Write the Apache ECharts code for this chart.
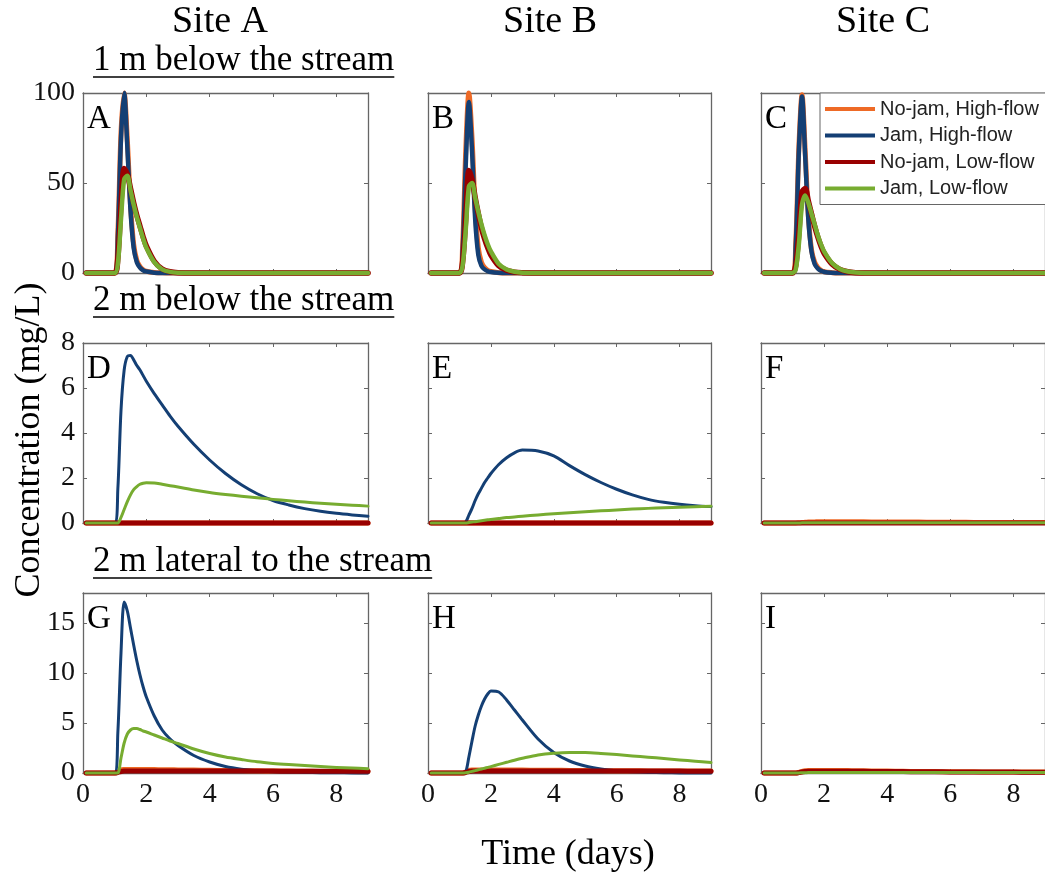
<!DOCTYPE html>
<html>
<head>
<meta charset="utf-8">
<script src="https://cdn.jsdelivr.net/npm/echarts@6/dist/echarts.min.js"></script>
<style>
  html, body { margin: 0; padding: 0; background: #ffffff; }
  #chart { width: 1045px; height: 875px; }
</style>
</head>
<body>
<div id="chart"></div>
<script>
// Shared time axis (days) for every breakthrough curve
const days = [0.1, 0.5, 1.0, 1.1, 1.2, 1.3, 1.4, 1.5, 1.6, 1.7, 1.8, 1.9, 2.0, 2.25, 2.5, 2.75, 3.0, 3.5, 4.0, 4.5, 5.0, 5.5, 6.0, 6.5, 7.0, 7.5, 8.0, 8.5, 9.0];

const seriesNames = ['No-jam, High-flow', 'Jam, High-flow', 'No-jam, Low-flow', 'Jam, Low-flow'];
const siteTitles = ['Site A', 'Site B', 'Site C'];
const rowTitles = ['1 m below the stream', '2 m below the stream', '2 m lateral to the stream'];
const panelLetters = ['A', 'B', 'C', 'D', 'E', 'F', 'G', 'H', 'I'];
const xTicks = { min: 0, max: 9, interval: 2 };
const yTicksByRow = [
  { min: 0, max: 100, interval: 50 },
  { min: 0, max: 8, interval: 2 },
  { min: 0, max: 18, interval: 5 }
];

// Concentration (mg/L), 1 m below the stream
const A_noJamHigh = [0, 0, 0, 22, 78, 100, 74, 38, 16, 7, 3.5, 1.8, 1, 0.3, 0.1, 0, 0, 0, 0, 0, 0, 0, 0, 0, 0, 0, 0, 0, 0];
const A_jamHigh   = [0, 0, 0, 20, 75, 100, 70, 35, 14, 6, 3, 1.5, 0.8, 0.2, 0, 0, 0, 0, 0, 0, 0, 0, 0, 0, 0, 0, 0, 0, 0];
const A_noJamLow  = [0, 0, 0, 8, 38, 58, 55, 47, 39, 32, 26, 20, 15, 6.5, 2.2, 0.7, 0.2, 0, 0, 0, 0, 0, 0, 0, 0, 0, 0, 0, 0];
const A_jamLow    = [0, 0, 0, 5, 30, 52, 54, 46, 38, 31, 25, 19, 14, 6, 2, 0.6, 0.2, 0, 0, 0, 0, 0, 0, 0, 0, 0, 0, 0, 0];

const B_noJamHigh = [0, 0, 0, 15, 68, 100, 75, 36, 14, 6, 3, 1.5, 0.8, 0.2, 0, 0, 0, 0, 0, 0, 0, 0, 0, 0, 0, 0, 0, 0, 0];
const B_jamHigh   = [0, 0, 0, 12, 60, 95, 68, 30, 10, 4, 2, 1, 0.5, 0.1, 0, 0, 0, 0, 0, 0, 0, 0, 0, 0, 0, 0, 0, 0, 0];
const B_noJamLow  = [0, 0, 0, 6, 30, 57, 52, 42, 33, 25, 19, 14, 10, 4, 1.5, 0.5, 0.2, 0, 0, 0, 0, 0, 0, 0, 0, 0, 0, 0, 0];
const B_jamLow    = [0, 0, 0, 4, 24, 48, 50, 42, 34, 27, 21, 16, 12, 5, 2, 0.7, 0.2, 0, 0, 0, 0, 0, 0, 0, 0, 0, 0, 0, 0];

const C_noJamHigh = [0, 0, 0, 16, 70, 99, 68, 32, 13, 6, 3, 1.5, 0.7, 0.2, 0, 0, 0, 0, 0, 0, 0, 0, 0, 0, 0, 0, 0, 0, 0];
const C_jamHigh   = [0, 0, 0, 15, 68, 98, 65, 30, 12, 5, 2.5, 1.2, 0.6, 0.1, 0, 0, 0, 0, 0, 0, 0, 0, 0, 0, 0, 0, 0, 0, 0];
const C_noJamLow  = [0, 0, 0, 4, 22, 45, 47, 40, 33, 26, 20, 15, 11, 5, 2, 0.7, 0.2, 0, 0, 0, 0, 0, 0, 0, 0, 0, 0, 0, 0];
const C_jamLow    = [0, 0, 0, 2, 16, 38, 43, 39, 33, 27, 21, 16, 12, 5.5, 2.2, 0.8, 0.3, 0, 0, 0, 0, 0, 0, 0, 0, 0, 0, 0, 0];

// Concentration (mg/L), 2 m below the stream
const D_noJamHigh = [0, 0, 0, 0, 0, 0, 0, 0, 0, 0, 0, 0, 0, 0, 0, 0, 0, 0, 0, 0, 0, 0, 0, 0, 0, 0, 0, 0, 0];
const D_jamHigh   = [0, 0, 0, 1.5, 5.0, 6.8, 7.4, 7.45, 7.25, 7.0, 6.8, 6.55, 6.3, 5.75, 5.25, 4.75, 4.3, 3.5, 2.8, 2.2, 1.7, 1.3, 1.0, 0.8, 0.64, 0.52, 0.43, 0.36, 0.3];
const D_noJamLow  = [0, 0, 0, 0, 0, 0, 0, 0, 0, 0, 0, 0, 0, 0, 0, 0, 0, 0, 0, 0, 0, 0, 0, 0, 0, 0, 0, 0, 0];
const D_jamLow    = [0, 0, 0, 0, 0.25, 0.6, 0.95, 1.25, 1.48, 1.62, 1.72, 1.77, 1.79, 1.78, 1.72, 1.66, 1.6, 1.47, 1.36, 1.27, 1.19, 1.12, 1.05, 0.99, 0.93, 0.88, 0.83, 0.79, 0.75];

const E_noJamHigh = [0, 0, 0, 0, 0, 0, 0, 0, 0, 0, 0, 0, 0, 0, 0, 0, 0, 0, 0, 0, 0, 0, 0, 0, 0, 0, 0, 0, 0];
const E_jamHigh   = [0, 0, 0, 0, 0.05, 0.35, 0.65, 1.0, 1.3, 1.55, 1.8, 2.0, 2.2, 2.6, 2.9, 3.12, 3.24, 3.2, 2.98, 2.55, 2.15, 1.8, 1.5, 1.25, 1.05, 0.92, 0.83, 0.77, 0.73];
const E_noJamLow  = [0, 0, 0, 0, 0, 0, 0, 0, 0, 0, 0, 0, 0, 0, 0, 0, 0, 0, 0, 0, 0, 0, 0, 0, 0, 0, 0, 0, 0];
const E_jamLow    = [0, 0, 0, 0, 0, 0.02, 0.04, 0.06, 0.08, 0.1, 0.12, 0.14, 0.16, 0.2, 0.24, 0.27, 0.3, 0.36, 0.41, 0.46, 0.5, 0.54, 0.58, 0.62, 0.65, 0.68, 0.7, 0.72, 0.74];

const F_noJamHigh = [0, 0, 0, 0, 0.01, 0.02, 0.03, 0.04, 0.05, 0.05, 0.06, 0.06, 0.06, 0.06, 0.06, 0.06, 0.06, 0.05, 0.05, 0.04, 0.04, 0.03, 0.03, 0.03, 0.02, 0.02, 0.02, 0.02, 0.02];
const F_jamHigh   = [0, 0, 0, 0, 0, 0.01, 0.01, 0.01, 0.01, 0.01, 0.01, 0.01, 0.01, 0.01, 0.01, 0.01, 0.01, 0.01, 0.01, 0.01, 0.01, 0.01, 0.01, 0.01, 0.01, 0.01, 0.01, 0.01, 0.01];
const F_noJamLow  = [0, 0, 0, 0, 0, 0, 0, 0, 0, 0, 0, 0, 0, 0, 0, 0, 0, 0, 0, 0, 0, 0, 0, 0, 0, 0, 0, 0, 0];
const F_jamLow    = [0, 0, 0, 0, 0, 0.01, 0.01, 0.01, 0.01, 0.01, 0.01, 0.01, 0.01, 0.01, 0.01, 0.01, 0.01, 0.01, 0.01, 0.01, 0.01, 0.01, 0.01, 0.01, 0.01, 0.01, 0.01, 0.01, 0.01];

// Concentration (mg/L), 2 m lateral to the stream
const G_noJamHigh = [0, 0, 0, 0.1, 0.3, 0.35, 0.36, 0.36, 0.36, 0.36, 0.35, 0.35, 0.35, 0.34, 0.33, 0.32, 0.31, 0.29, 0.27, 0.25, 0.24, 0.22, 0.2, 0.19, 0.17, 0.16, 0.15, 0.14, 0.13];
const G_jamHigh   = [0, 0, 0, 4, 12, 17.1, 16.2, 14.5, 12.8, 11.2, 9.8, 8.6, 7.6, 5.7, 4.3, 3.4, 2.75, 1.75, 1.1, 0.65, 0.38, 0.22, 0.13, 0.08, 0.05, 0.03, 0.02, 0.01, 0];
const G_noJamLow  = [0, 0, 0, 0.05, 0.15, 0.2, 0.21, 0.21, 0.21, 0.21, 0.21, 0.21, 0.21, 0.21, 0.21, 0.2, 0.2, 0.2, 0.2, 0.2, 0.19, 0.19, 0.19, 0.18, 0.18, 0.18, 0.17, 0.17, 0.17];
const G_jamLow    = [0, 0, 0, 0, 1.5, 3.0, 3.9, 4.3, 4.45, 4.45, 4.35, 4.2, 4.1, 3.8, 3.5, 3.2, 2.95, 2.4, 1.95, 1.6, 1.35, 1.12, 0.96, 0.84, 0.74, 0.64, 0.55, 0.49, 0.43];

const H_noJamHigh = [0, 0, 0, 0, 0.1, 0.25, 0.3, 0.31, 0.31, 0.31, 0.31, 0.31, 0.31, 0.3, 0.3, 0.3, 0.29, 0.28, 0.27, 0.26, 0.25, 0.24, 0.23, 0.22, 0.21, 0.2, 0.2, 0.19, 0.19];
const H_jamHigh   = [0, 0, 0, 0, 0.1, 1.6, 3.2, 4.7, 5.8, 6.7, 7.4, 7.9, 8.2, 8.1, 7.3, 6.3, 5.3, 3.4, 2.05, 1.2, 0.7, 0.4, 0.22, 0.12, 0.06, 0.03, 0.01, 0, 0];
const H_noJamLow  = [0, 0, 0, 0, 0.05, 0.15, 0.2, 0.21, 0.21, 0.21, 0.21, 0.21, 0.21, 0.21, 0.21, 0.21, 0.21, 0.21, 0.2, 0.2, 0.2, 0.2, 0.2, 0.19, 0.19, 0.19, 0.19, 0.18, 0.18];
const H_jamLow    = [0, 0, 0, 0, 0.02, 0.08, 0.16, 0.24, 0.32, 0.4, 0.48, 0.56, 0.64, 0.86, 1.07, 1.28, 1.47, 1.8, 1.98, 2.06, 2.05, 1.96, 1.84, 1.71, 1.58, 1.45, 1.31, 1.17, 1.04];

const I_noJamHigh = [0, 0, 0, 0, 0.06, 0.15, 0.22, 0.25, 0.26, 0.26, 0.26, 0.26, 0.26, 0.25, 0.25, 0.24, 0.23, 0.21, 0.19, 0.17, 0.15, 0.14, 0.13, 0.12, 0.11, 0.1, 0.1, 0.09, 0.09];
const I_jamHigh   = [0, 0, 0, 0, 0.05, 0.12, 0.18, 0.2, 0.2, 0.2, 0.2, 0.2, 0.2, 0.2, 0.2, 0.19, 0.18, 0.16, 0.14, 0.12, 0.1, 0.09, 0.08, 0.07, 0.06, 0.06, 0.05, 0.05, 0.05];
const I_noJamLow  = [0, 0, 0, 0, 0.04, 0.1, 0.14, 0.17, 0.18, 0.18, 0.18, 0.18, 0.18, 0.18, 0.18, 0.17, 0.17, 0.16, 0.15, 0.14, 0.13, 0.12, 0.11, 0.1, 0.1, 0.09, 0.09, 0.08, 0.08];
const I_jamLow    = [0, 0, 0, 0, 0.01, 0.02, 0.03, 0.04, 0.04, 0.05, 0.05, 0.05, 0.05, 0.05, 0.05, 0.05, 0.05, 0.05, 0.05, 0.05, 0.05, 0.05, 0.05, 0.05, 0.05, 0.05, 0.05, 0.05, 0.05];

const panelSeries = [
  [A_noJamHigh, A_jamHigh, A_noJamLow, A_jamLow],
  [B_noJamHigh, B_jamHigh, B_noJamLow, B_jamLow],
  [C_noJamHigh, C_jamHigh, C_noJamLow, C_jamLow],
  [D_noJamHigh, D_jamHigh, D_noJamLow, D_jamLow],
  [E_noJamHigh, E_jamHigh, E_noJamLow, E_jamLow],
  [F_noJamHigh, F_jamHigh, F_noJamLow, F_jamLow],
  [G_noJamHigh, G_jamHigh, G_noJamLow, G_jamLow],
  [H_noJamHigh, H_jamHigh, H_noJamLow, H_jamLow],
  [I_noJamHigh, I_jamHigh, I_noJamLow, I_jamLow]
];

// ---- styling and layout ----
const lineColors = ['#EE6A26', '#143F74', '#990000', '#77AC30'];
// the narrow 1 m peaks are drawn a little heavier than the slower curves below
const lineWidthsByRow = [
  [5, 4.5, 5.5, 4.5],
  [5, 3, 5, 3],
  [5, 3, 5, 3]
];
const frameColor = '#666666';
const textColor = '#111111';
const serif = '"Liberation Serif", "Times New Roman", serif';
const sans = '"Liberation Sans", Arial, sans-serif';

const colLeft = [83, 428, 761];
const colWidth = [285, 283, 287];
const rowTop = [93, 343, 593];
const rowHeight = 180;

const grids = [], xAxes = [], yAxes = [], series = [];

panelSeries.forEach((curves, p) => {
  const row = Math.floor(p / 3), col = p % 3;
  grids.push({
    left: colLeft[col], top: rowTop[row], width: colWidth[col], height: rowHeight,
    show: false, containLabel: false
  });
  const yT = yTicksByRow[row];
  const tickStyle = { show: true, inside: true, length: 4, lineStyle: { color: frameColor, width: 1 } };
  const lineStyle = { show: true, onZero: false, lineStyle: { color: frameColor, width: 1.3 } };
  // bottom x axis (labelled on the last row only)
  xAxes.push({
    type: 'value', gridIndex: p, position: 'bottom',
    min: xTicks.min, max: xTicks.max, interval: xTicks.interval,
    axisLine: lineStyle, axisTick: tickStyle, splitLine: { show: false },
    axisLabel: {
      show: row === 2, showMaxLabel: false, margin: 8,
      fontFamily: serif, fontSize: 28, color: textColor
    }
  });
  // top x axis: frame edge with ticks
  xAxes.push({
    type: 'value', gridIndex: p, position: 'top',
    min: xTicks.min, max: xTicks.max, interval: xTicks.interval,
    axisLine: lineStyle, axisTick: tickStyle, splitLine: { show: false },
    axisLabel: { show: false }
  });
  // left y axis (labelled on the first column only)
  yAxes.push({
    type: 'value', gridIndex: p, position: 'left',
    min: yT.min, max: yT.max, interval: yT.interval,
    axisLine: lineStyle, axisTick: tickStyle, splitLine: { show: false },
    axisLabel: {
      show: col === 0, showMaxLabel: yT.max % yT.interval === 0, margin: 8,
      fontFamily: serif, fontSize: 28, color: textColor
    }
  });
  // right y axis: frame edge with ticks
  yAxes.push({
    type: 'value', gridIndex: p, position: 'right',
    min: yT.min, max: yT.max, interval: yT.interval,
    axisLine: lineStyle, axisTick: tickStyle, splitLine: { show: false },
    axisLabel: { show: false }
  });
  curves.forEach((vals, s) => {
    series.push({
      name: seriesNames[s],
      type: 'line',
      xAxisIndex: 2 * p, yAxisIndex: 2 * p,
      data: days.map((d, k) => [d, vals[k]]),
      symbol: 'none', showSymbol: false,
      smooth: 0.3,
      clip: false,
      z: 2 + s,
      lineStyle: { color: lineColors[s], width: lineWidthsByRow[row][s], cap: 'round', join: 'round' },
      itemStyle: { color: lineColors[s] },
      emphasis: { disabled: true },
      silent: true
    });
  });
});

// text measuring for the underlined row headings
const measureCtx = document.createElement('canvas').getContext('2d');
function textWidth(str, font) { measureCtx.font = font; return measureCtx.measureText(str).width; }

const graphics = [];
const siteCenters = [220, 550, 883];
siteTitles.forEach((t, i) => {
  graphics.push({
    type: 'text', x: siteCenters[i], y: 22, silent: true,
    style: { text: t, fontFamily: serif, fontSize: 38, fill: '#000', textAlign: 'center', textVerticalAlign: 'middle' }
  });
});
const headingY = [61, 301, 562];
const headingSize = 35;
rowTitles.forEach((t, i) => {
  const w = textWidth(t, headingSize + 'px "Liberation Serif"');
  graphics.push({
    type: 'text', x: 93, y: headingY[i], silent: true,
    style: { text: t, fontFamily: serif, fontSize: headingSize, fill: '#000', textAlign: 'left', textVerticalAlign: 'middle' }
  });
  graphics.push({
    type: 'line', silent: true,
    shape: { x1: 93, y1: headingY[i] + 16, x2: 93 + w, y2: headingY[i] + 16 },
    style: { stroke: '#000', lineWidth: 1.5 }
  });
});
panelLetters.forEach((L, p) => {
  const row = Math.floor(p / 3), col = p % 3;
  graphics.push({
    type: 'text', x: colLeft[col] + 4, y: rowTop[row] + 10, silent: true, z: 10,
    style: { text: L, fontFamily: serif, fontSize: 33, fill: '#000', textAlign: 'left', textVerticalAlign: 'top' }
  });
});
graphics.push({
  type: 'text', x: 30, y: 440, rotation: Math.PI / 2, silent: true,
  style: { text: 'Concentration (mg/L)', fontFamily: serif, fontSize: 36, fill: '#000', textAlign: 'center', textVerticalAlign: 'middle' }
});
graphics.push({
  type: 'text', x: 568, y: 855, silent: true,
  style: { text: 'Time (days)', fontFamily: serif, fontSize: 36, fill: '#000', textAlign: 'center', textVerticalAlign: 'middle' }
});

const chart = echarts.init(document.getElementById('chart'), null, { renderer: 'canvas' });
chart.setOption({
  animation: false,
  backgroundColor: '#ffffff',
  grid: grids,
  xAxis: xAxes,
  yAxis: yAxes,
  series: series,
  legend: {
    data: seriesNames,
    icon: 'rect',
    orient: 'vertical',
    left: 820, top: 93,
    itemWidth: 50, itemHeight: 4, itemGap: 6.5,
    padding: [6, 24, 6, 5],
    backgroundColor: '#ffffff',
    borderColor: frameColor, borderWidth: 1, borderRadius: 0,
    selectedMode: false,
    textStyle: { fontFamily: sans, fontSize: 20, color: '#222222' },
    z: 20
  },
  graphic: { elements: graphics }
});
</script>
</body>
</html>
